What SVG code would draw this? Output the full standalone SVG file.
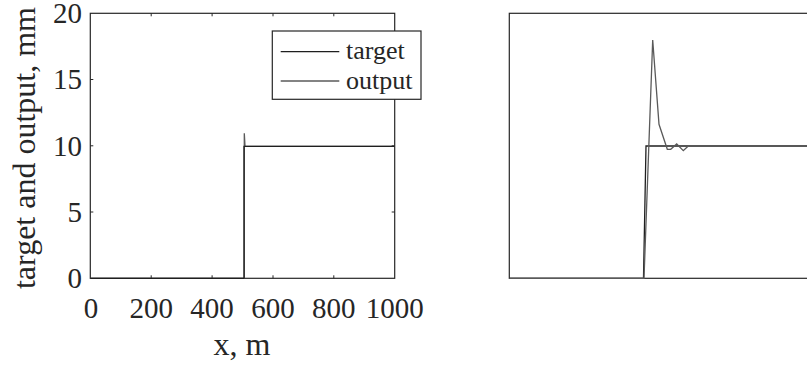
<svg xmlns="http://www.w3.org/2000/svg" width="807" height="367" viewBox="0 0 807 367">
<style>
.ax{fill:none;stroke:#262626;stroke-width:1.2}
.tk{stroke:#262626;stroke-width:1}
.t{font-family:'Liberation Serif','Times New Roman',Times,'DejaVu Serif',serif;fill:#262626}
.tick{font-size:29px}
.lab{font-size:32px}
.leg{font-size:26px}
.target{fill:none;stroke:#1f1f1f;stroke-width:1.3}
.output{fill:none;stroke:#5a5a5a;stroke-width:1.3}
</style>
<rect width="807" height="367" fill="#fff"/>
<g id="left-axes">
<rect class="ax" x="90.3" y="13.3" width="304.4" height="265"/>
<g class="tk">
<path d="M151.2,278.3v-3M212.1,278.3v-3M273,278.3v-3M333.8,278.3v-3M151.2,13.3v3M212.1,13.3v3M273,13.3v3M333.8,13.3v3"/>
<path d="M90.3,212h3M90.3,145.8h3M90.3,79.5h3M394.7,212h-3M394.7,145.8h-3M394.7,79.5h-3"/>
</g>
<g class="t tick" text-anchor="middle">
<text x="91" y="318">0</text>
<text x="151.2" y="318">200</text>
<text x="212.1" y="318">400</text>
<text x="273" y="318">600</text>
<text x="333.8" y="318">800</text>
<text x="394.7" y="318">1000</text>
</g>
<g class="t tick" text-anchor="end">
<text x="82" y="288">0</text>
<text x="82" y="222">5</text>
<text x="82" y="155.5">10</text>
<text x="82" y="89">15</text>
<text x="82" y="23">20</text>
</g>
<text class="t lab" x="242" y="355" text-anchor="middle">x, m</text>
<text class="t lab" transform="translate(35,148) rotate(-90)" text-anchor="middle">target and output, mm</text>
</g>
<g id="left-curves">
<path class="output" d="M90.3,278.3H244.3V133.3L245,146.3H394.7"/>
<path class="target" d="M90.3,278.3H244V146.3H394.7"/>
</g>
<g id="legend">
<rect x="272.3" y="31" width="148.7" height="68.3" fill="#fff" stroke="#262626" stroke-width="1.2"/>
<line class="target" x1="280.7" y1="51.7" x2="339.3" y2="51.7"/>
<line class="output" x1="280.7" y1="81" x2="339.3" y2="81"/>
<text class="t leg" x="346" y="59">target</text>
<text class="t leg" x="346" y="88.5">output</text>
</g>
<g id="right-axes">
<rect class="ax" x="509.3" y="13.3" width="310" height="265"/>
</g>
<g id="right-curves">
<path class="target" d="M509.3,278.3H643.5L646,146H807"/>
<path class="output" d="M509.3,278.3H644L652.7,40L659,124.3L667.3,149.3L670.7,149.3L676.7,144L683.3,150.7L688.3,146H807"/>
</g>
</svg>
